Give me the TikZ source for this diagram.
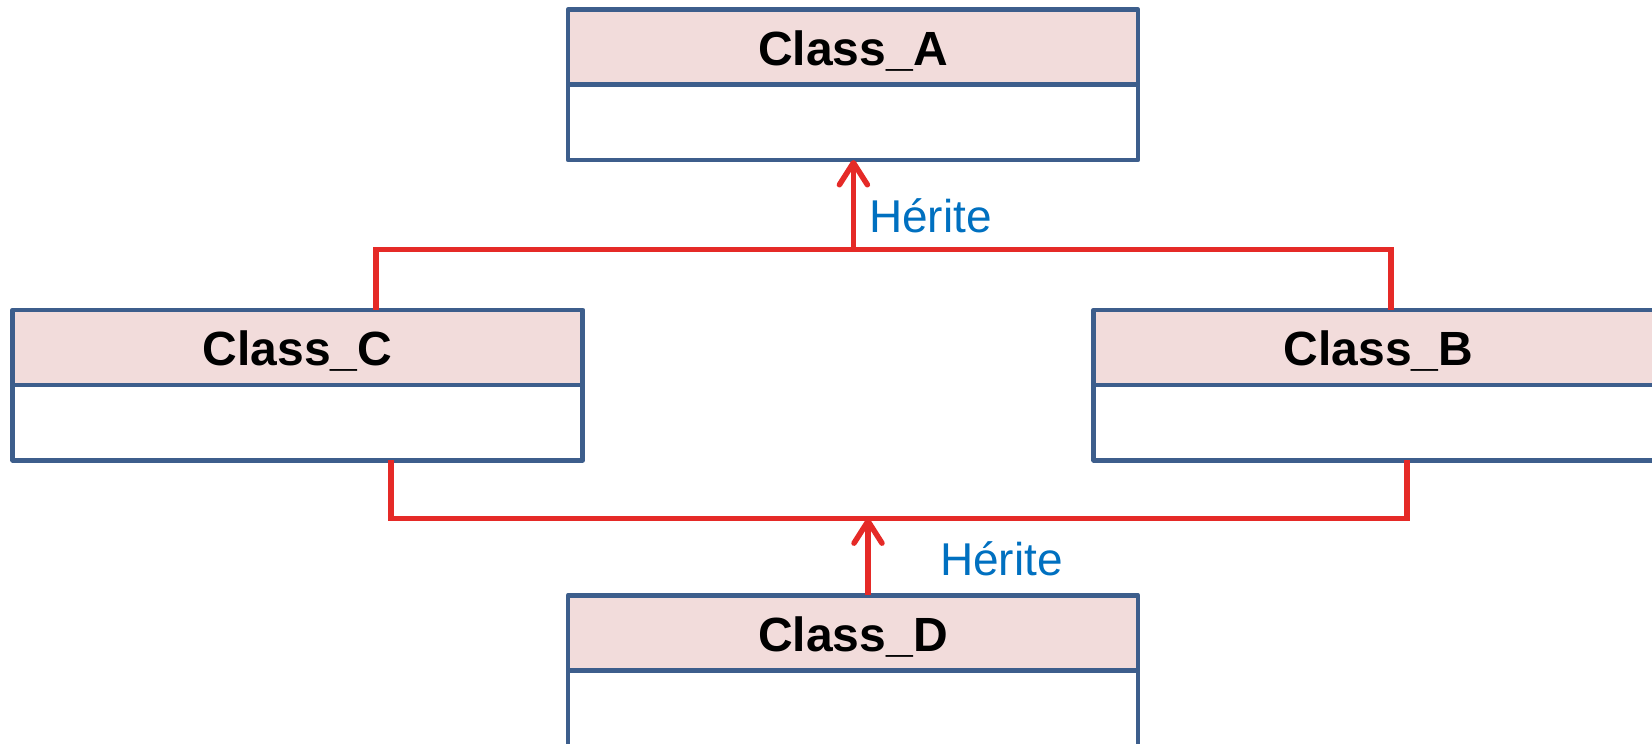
\documentclass[tikz,border=0pt]{standalone}
\usepackage{fontspec}
\setmainfont{Liberation Sans}
\usetikzlibrary{arrows.meta,calc}
\definecolor{umlblue}{RGB}{61,94,140}
\definecolor{hdrfill}{RGB}{242,220,219}
\definecolor{inhred}{RGB}{229,42,39}
\definecolor{lblblue}{RGB}{0,112,192}
\tikzset{
  hdr/.style={draw=umlblue, line width=4.5pt, fill=hdrfill, minimum width=570pt, minimum height=75pt,
    inner sep=0pt, outer sep=0pt, text depth=0pt, font=\fontsize{48}{56}\selectfont\bfseries, text=black, line join=round},
  bodybox/.style={draw=umlblue, line width=4.5pt, fill=white, minimum width=570pt, minimum height=75.5pt,
    inner sep=0pt, outer sep=0pt, anchor=north, line join=round},
  inh/.style={draw=inhred, line width=5.5pt},
  inharrow/.style={inh, -{Straight Barb[length=22pt,width=28pt,line width=5.5pt,round]}},
  lbl/.style={text=lblblue, font=\fontsize{46}{54}\selectfont, inner sep=0pt, anchor=west}
}
\begin{document}
\begin{tikzpicture}[x=1pt,y=-1pt]
\useasboundingbox (0,0) rectangle (1652,744);
\clip (0,0) rectangle (1652,744);
% classes
\node[hdr] (Ah) at (853,47) {\raisebox{-2pt}{Class\_A}};
\node[bodybox] (Ab) at (Ah.south) {};
\node[hdr] (Ch) at (297.6,347.3) {\raisebox{-2pt}{Class\_C}};
\node[bodybox] (Cb) at (Ch.south) {};
\node[hdr] (Bh) at (1378.6,347.3) {\raisebox{-2pt}{Class\_B}};
\node[bodybox] (Bb) at (Bh.south) {};
\node[hdr] (Dh) at (853,632.8) {\raisebox{-2pt}{Class\_D}};
\node[bodybox] (Db) at (Dh.south) {};
% top inheritance
\coordinate (topbus) at (853.4,249.7);
\draw[inh] ([xshift=78.4pt]Ch.north) |- (topbus) -| ([xshift=12.4pt]Bh.north);
\draw[inharrow] (topbus) -- (topbus |- Ab.south);
\node[lbl] (l1) at (869,216) {Hérite};
% bottom inheritance
\coordinate (botbus) at (868,518.4);
\draw[inh] ([xshift=93.4pt]Cb.south) |- (botbus) -| ([xshift=28.4pt]Bb.south);
\draw[inharrow] (Dh.north -| botbus) -- (botbus);
\node[lbl] (l2) at (940,559) {Hérite};
\end{tikzpicture}
\end{document}
